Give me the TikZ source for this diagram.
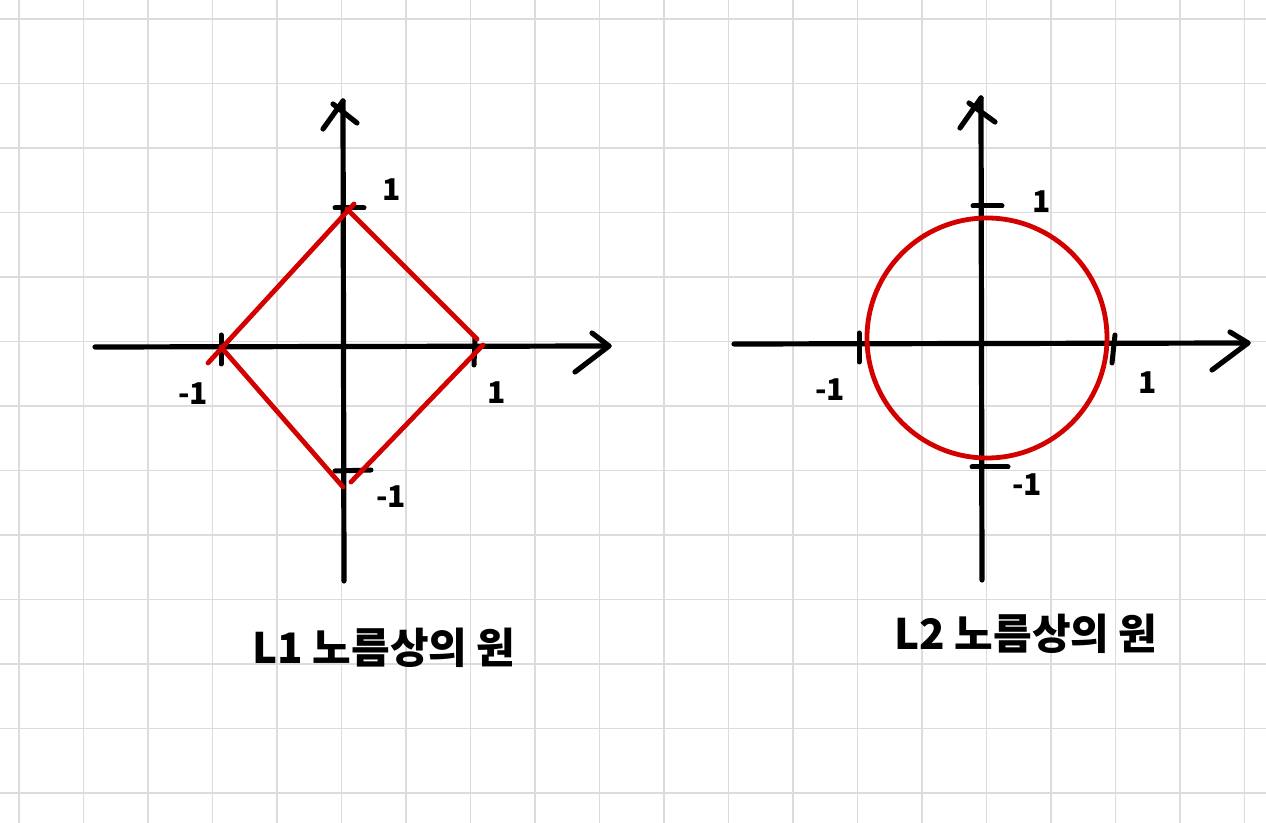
\documentclass[tikz,border=0pt]{standalone}
\usepackage{fontspec}
\newfontfamily\hangul{Noto Sans CJK KR}
\usetikzlibrary{arrows.meta,positioning,calc}
\usepackage{xcolor}
\definecolor{Ink}{HTML}{000000}
\definecolor{Paper}{HTML}{DCDCDC}
\definecolor{Norm}{HTML}{D30000}

\begin{document}
\begin{tikzpicture}[x=0.5pt,y=-0.5pt,
  axis/.style={Ink,line width=2.6pt,line cap=round,line join=round},
  tick/.style={Ink,line width=2.5pt,line cap=round},
  unitline/.style={Norm,line width=2.4pt,line cap=round},
  val/.style={font=\hangul\bfseries\fontsize{15}{15}\selectfont,text=Ink,inner sep=0pt},
  caption/.style={font=\hangul\bfseries\fontsize{21}{21}\selectfont,text=Ink,inner sep=0pt}]
\useasboundingbox (0,0) rectangle (1266,823);
\fill[white] (0,0) rectangle (1266,823);
% grid paper
\foreach \i in {0,...,19}
  \draw[Paper,line width=0.9pt] ({19+64.5*\i},0) -- ({19+64.5*\i},823);
\foreach \j in {0,...,12}
  \draw[Paper,line width=0.9pt] (0,{19+64.5*\j}) -- (1266,{19+64.5*\j});

% L1 axes
\coordinate (L1 xstart) at (95,347);
\coordinate (L1 xend) at (609,346);
\coordinate (L1 ystart) at (344,581);
\coordinate (L1 yend) at (343,101);
\draw[axis] (L1 xstart) -- (L1 xend);
\draw[axis] ($(L1 xend)+(-17,-13)$) -- (L1 xend) -- ($(L1 xend)+(-34,26)$);
\draw[axis] (L1 ystart) -- (L1 yend);
\draw[axis] ($(L1 yend)+(-20,28)$) -- (L1 yend);
\draw[axis] ($(L1 yend)+(-10,3)$) -- ($(L1 yend)+(14,22)$);
\draw[tick] (221,335) -- (221,364);
\draw[tick] (475,338) -- (474,365);
\draw[tick] (335,208) -- (364,208);
\draw[tick] (335,471) -- (371,470);
\node[val] (L1 px) at (497,393) {1};
\node[val] (L1 nx) at (193,394) {-1};
\node[val] (L1 py) at (392,190) {1};
\node[val] (L1 ny) at (391,497) {-1};
% L1 unit ball
\draw[unitline] (208,363) -- (354,204);
\draw[unitline] (347,209) -- (477,339);
\draw[unitline] (483,345) -- (351,482);
\draw[unitline] (221,347) -- (343,487);
\node[caption] (L1 name) at (384,648) {L1 노름상의 원};

% L2 axes
\coordinate (L2 xstart) at (734,344);
\coordinate (L2 xend) at (1248,343);
\coordinate (L2 ystart) at (982,580);
\coordinate (L2 yend) at (981,98);
\draw[axis] (L2 xstart) -- (L2 xend);
\draw[axis] ($(L2 xend)+(-18,-11)$) -- (L2 xend) -- ($(L2 xend)+(-36,27)$);
\draw[axis] (L2 ystart) -- (L2 yend);
\draw[axis] ($(L2 yend)+(-21,30)$) -- (L2 yend);
\draw[axis] ($(L2 yend)+(-12,5)$) -- ($(L2 yend)+(14,24)$);
\draw[tick] (859,333) -- (859,362);
\draw[tick] (1115,335) -- (1112,363);
\draw[tick] (973,206) -- (1002,206);
\draw[tick] (972,467) -- (1008,467);
\node[val] (L2 px) at (1148,383) {1};
\node[val] (L2 nx) at (830,390) {-1};
\node[val] (L2 py) at (1042,202) {1};
\node[val] (L2 ny) at (1027,485) {-1};
% L2 unit ball
\draw[unitline] (987,338) circle[radius=120];
\node[caption] (L2 name) at (1026,634) {L2 노름상의 원};
\end{tikzpicture}
\end{document}
